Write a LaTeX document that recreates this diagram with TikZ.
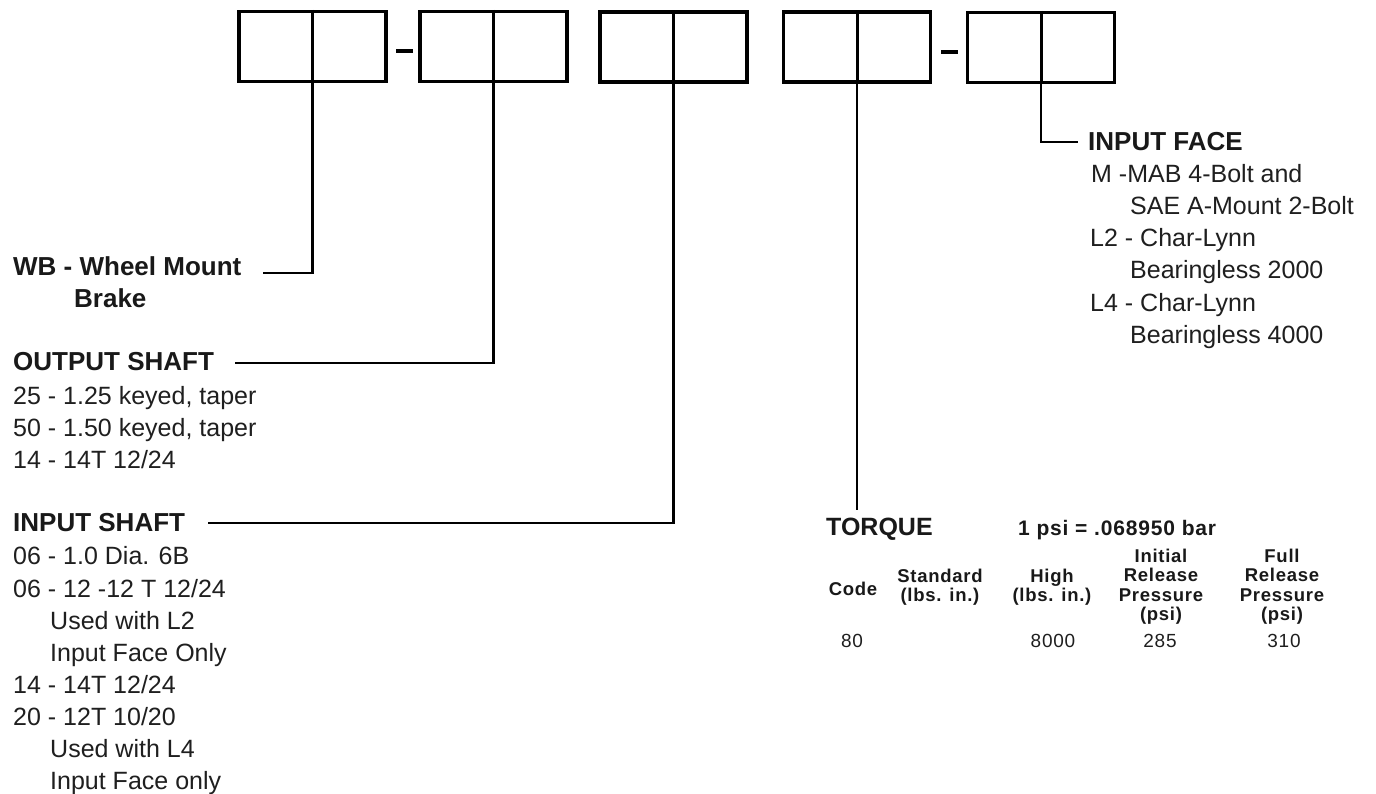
\documentclass[tikz,border=0pt]{standalone}
\usepackage{fontspec}
\setmainfont{Liberation Sans}
\newfontfamily\tabfont[LetterSpace=4]{Liberation Sans}
\begin{document}
\begin{tikzpicture}[x=1pt,y=-1pt,
  box/.style={draw=black, line width=3.5pt, minimum width=147pt, minimum height=70pt, inner sep=0pt},
  divline/.style={line width=3pt},
  lead/.style={line width=2.4pt},
  dashmark/.style={line width=4pt},
  hd/.style={anchor=base west, inner sep=0pt, text=black!90, font=\fontsize{26}{30}\selectfont\bfseries},
  txt/.style={anchor=base west, inner sep=0pt, text=black!88, font=\fontsize{25}{30}\selectfont},
  th/.style={anchor=base, inner sep=0pt, text=black!90, font=\tabfont\bfseries\fontsize{18.5}{20}\selectfont},
  td/.style={anchor=base, inner sep=0pt, text=black!88, font=\tabfont\fontsize{19}{20}\selectfont}]
\useasboundingbox[fill=white] (0,0) rectangle (1376,793);

% code boxes
\node[box] (b1) at (312.5,46.5) {};
\node[box] (b2) at (493.5,46.5) {};
\node[box] (b3) at (673.5,47) {};
\node[box] (b4) at (857,47) {};
\node[box] (b5) at (1041,47.5) {};
\foreach \b in {b1,b2,b3,b4,b5} \draw[divline] (\b.north) -- (\b.south);
\draw[dashmark] (396,51) -- (413,51);
\draw[dashmark] (941,51.5) -- (958,51.5);

% left texts
\node[hd] (wb) at (13,275) {WB - Wheel Mount};
\node[hd] (wb2) at (74,307) {Brake};
\node[hd] (os) at (13,370) {OUTPUT SHAFT};
\node[txt] (os1) at (13,404) {25 - 1.25 keyed, taper};
\node[txt] (os2) at (13,436) {50 - 1.50 keyed, taper};
\node[txt] (os3) at (13,468) {14 - 14T 12/24};
\node[hd] (is) at (13,531) {INPUT SHAFT};
\node[txt] (is1) at (13,564) {06 - 1.0 Dia. 6B};
\node[txt] (is2) at (13,597) {06 - 12 -12 T 12/24};
\node[txt] (is3) at (50,629) {Used with L2};
\node[txt] (is4) at (50,661) {Input Face Only};
\node[txt] (is5) at (13,693) {14 - 14T 12/24};
\node[txt] (is6) at (13,725) {20 - 12T 10/20};
\node[txt] (is7) at (50,757) {Used with L4};
\node[txt] (is8) at (50,789) {Input Face only};

% right texts
\node[hd] (if) at (1088,150) {INPUT FACE};
\node[txt] (if1) at (1091,182) {M -MAB 4-Bolt and};
\node[txt] (if2) at (1130,214) {SAE A-Mount 2-Bolt};
\node[txt] (if3) at (1090,246) {L2 - Char-Lynn};
\node[txt] (if4) at (1130,278) {Bearingless 2000};
\node[txt] (if5) at (1090,311) {L4 - Char-Lynn};
\node[txt] (if6) at (1130,343) {Bearingless 4000};

% torque table
\node[hd, font=\fontsize{25}{30}\selectfont\bfseries] (tq) at (826,535) {TORQUE};
\node[anchor=base west, inner sep=0pt, text=black!90, font=\tabfont\bfseries\fontsize{21}{24}\selectfont] (psi) at (1018,535) {1 psi = .068950 bar};
\node[th] (hcode) at (853,595) {Code};
\node[th] (hstd1) at (940,582) {Standard};
\node[th] (hstd2) at (940,601.5) {(lbs. in.)};
\node[th] (hhi1) at (1052,582) {High};
\node[th] (hhi2) at (1052,601.5) {(lbs. in.)};
\node[th] (hin1) at (1161,562) {Initial};
\node[th] (hin2) at (1161,581.5) {Release};
\node[th] (hin3) at (1161,601) {Pressure};
\node[th] (hin4) at (1161,620.5) {(psi)};
\node[th] (hfu1) at (1282,562) {Full};
\node[th] (hfu2) at (1282,581.5) {Release};
\node[th] (hfu3) at (1282,601) {Pressure};
\node[th] (hfu4) at (1282,620.5) {(psi)};
\node[td] (dcode) at (852,647) {80};
\node[td] (dhi) at (1053,647) {8000};
\node[td] (din) at (1160,647) {285};
\node[td] (dfu) at (1284,647) {310};

% leaders
\coordinate (wbE) at (263,273);
\coordinate (osE) at (235,363);
\coordinate (isE) at (208,523);
\coordinate (tqE) at (857,510);
\coordinate (ifE) at (1078,142);
\draw[lead] (b1.south) |- (wbE);
\draw[lead] (b2.south) |- (osE);
\draw[lead] (b3.south) |- (isE);
\draw[lead] (b4.south) -- (tqE);
\draw[lead] (b5.south) |- (ifE);
\end{tikzpicture}
\end{document}
